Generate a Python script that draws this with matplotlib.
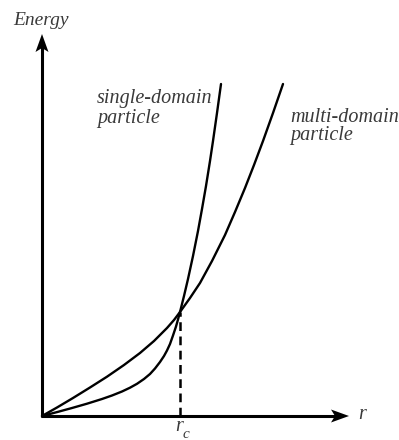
import matplotlib
matplotlib.use("Agg")
import matplotlib.pyplot as plt
from matplotlib.patches import Polygon

# Energy versus particle radius r for single-domain and multi-domain particles
single_r = [0, 15, 30, 45, 60, 70, 80, 88, 95, 102, 108, 113, 118, 122, 125,
            128, 131, 134, 136, 138, 142, 146, 151, 156, 160, 164, 168, 171,
            175, 179]
single_E = [0, 3.9, 8, 12.3, 17, 20.5, 24.5, 28.3, 32.2, 37, 42, 47.5, 54, 60,
            65.5, 72, 80.5, 89.5, 96.5, 104, 120, 137, 160, 185, 207, 230, 255,
            275, 303, 332]

multi_r = [0, 15, 31, 48, 65, 82, 98, 112, 125, 132, 138, 148, 158, 170, 183,
           193, 203, 212, 221, 231, 241]
multi_E = [0, 8.5, 18, 28.5, 39.3, 51, 63, 75, 88, 96, 104, 118, 133, 155,
           181, 204, 228, 251, 275, 303, 332]

r_c = 138
E_c = 104

fig = plt.figure(figsize=(3.99, 4.40), dpi=100)
ax = fig.add_axes([0, 0, 1, 1])
ax.set_xlim(-42, 357)
ax.set_ylim(-24, 416)
ax.axis("off")

serif = ["Liberation Serif", "DejaVu Serif"]
tcol = "#3a3a3a"

# axes lines with notched arrow heads
ax.plot([0, 0], [-1, 370], color="black", lw=2.2, solid_capstyle="butt")
ax.plot([-1, 295], [0, 0], color="black", lw=2.2, solid_capstyle="butt")
ax.add_patch(Polygon([(0, 382), (-6.5, 364), (0, 368), (6.5, 364)],
                     closed=True, color="black", lw=0))
ax.add_patch(Polygon([(307, 0), (289, 6.5), (293, 0), (289, -6.5)],
                     closed=True, color="black", lw=0))

# curves
ax.plot(single_r, single_E, color="black", lw=1.7, solid_joinstyle="round",
        solid_capstyle="round")
ax.plot(multi_r, multi_E, color="black", lw=1.7, solid_joinstyle="round",
        solid_capstyle="round")

# critical radius marker
ax.plot([r_c, r_c], [0, E_c], color="black", lw=1.8, ls=(0, (3.5, 2.2)))

# labels
fs = 14.5
ax.text(-29, 391, "Energy", family=serif, style="italic", fontsize=14,
        color=tcol, ha="left", va="baseline")
ax.text(55, 313, "single-domain", family=serif, style="italic", fontsize=fs,
        color=tcol, ha="left", va="baseline")
ax.text(55, 293, "particle", family=serif, style="italic", fontsize=fs,
        color=tcol, ha="left", va="baseline")
ax.text(248, 294, "multi-domain", family=serif, style="italic", fontsize=fs,
        color=tcol, ha="left", va="baseline")
ax.text(248, 276, "particle", family=serif, style="italic", fontsize=fs,
        color=tcol, ha="left", va="baseline")
ax.text(316, -3, "r", family=serif, style="italic", fontsize=fs,
        color=tcol, ha="left", va="baseline")
ax.text(133, -15, "r", family=serif, style="italic", fontsize=fs,
        color=tcol, ha="left", va="baseline")
ax.text(141, -22, "c", family=serif, style="italic", fontsize=11,
        color=tcol, ha="left", va="baseline")

fig.savefig("out.png", dpi=100, facecolor="white")
